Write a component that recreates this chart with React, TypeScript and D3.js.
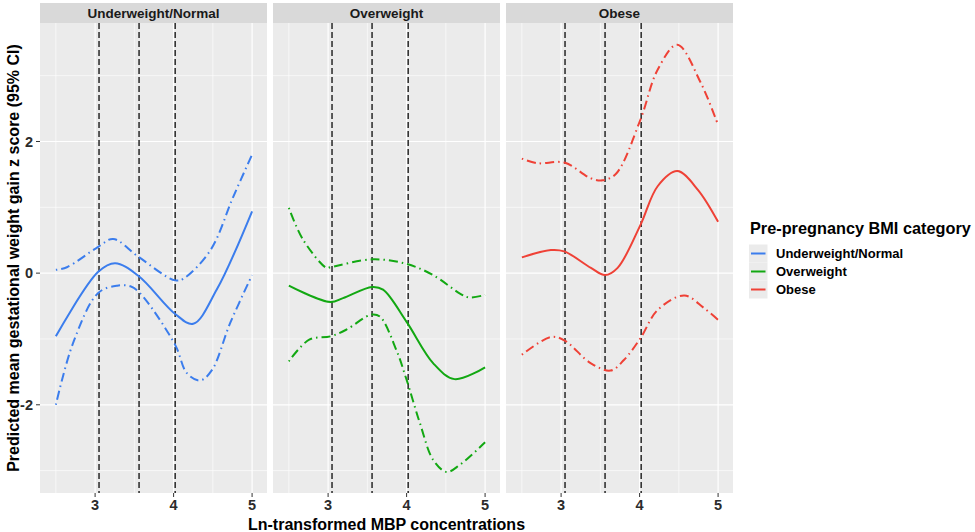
import React from "react";
import * as d3 from "d3";

// ---- Data ----
const panelNames = ["Underweight/Normal", "Overweight", "Obese"];
const seriesColors = ["#3b7ded", "#12a812", "#ef4136"];
const cutoffs = [3.05, 3.56, 4.02];
const xTicks = [3, 4, 5];
const xMinorTicks = [2.5, 3.5, 4.5];
const yTicks = [-2, 0, 2];
const yMinorTicks = [-3, -1, 1, 3];

// Underweight/Normal
const unFitX = [2.5, 3.04, 3.255, 3.55, 4.02, 4.25, 4.55, 5.0];
const unFitY = [-0.96, 0.02, 0.15, -0.04, -0.62, -0.77, -0.25, 0.94];
const unUpX = [2.5, 2.64, 3.04, 3.23, 3.55, 4.02, 4.13, 4.47, 4.76, 5.0];
const unUpY = [0.05, 0.09, 0.4, 0.52, 0.25, -0.11, -0.08, 0.35, 1.16, 1.8];
const unLoX = [2.5, 2.72, 3.04, 3.28, 3.45, 3.57, 4.02, 4.17, 4.34, 4.49, 4.72, 5.0];
const unLoY = [-2.0, -1.06, -0.3, -0.19, -0.2, -0.3, -1.09, -1.52, -1.63, -1.47, -0.76, -0.03];

// Overweight
const owFitX = [2.5, 3.03, 3.19, 3.56, 3.7, 4.0, 4.34, 4.61, 5.0];
const owFitY = [-0.19, -0.44, -0.38, -0.21, -0.25, -0.74, -1.37, -1.61, -1.43];
const owUpX = [2.5, 2.68, 2.98, 3.03, 3.57, 4.0, 4.34, 4.68, 4.8, 5.0];
const owUpY = [0.99, 0.51, 0.08, 0.09, 0.21, 0.14, -0.03, -0.31, -0.37, -0.33];
const owLoX = [2.5, 2.76, 3.03, 3.23, 3.55, 3.66, 3.87, 4.0, 4.17, 4.34, 4.51, 4.68, 5.0];
const owLoY = [-1.34, -1.01, -0.96, -0.86, -0.63, -0.66, -1.17, -1.62, -2.28, -2.84, -3.02, -2.91, -2.57];

// Obese
const obFitX = [2.5, 2.87, 3.04, 3.38, 3.56, 3.72, 4.01, 4.23, 4.48, 4.74, 5.0];
const obFitY = [0.24, 0.35, 0.33, 0.08, -0.03, 0.08, 0.73, 1.32, 1.55, 1.27, 0.78];
const obUpX = [2.5, 2.7, 3.04, 3.38, 3.53, 3.7, 4.01, 4.23, 4.48, 4.78, 5.0];
const obUpY = [1.74, 1.67, 1.68, 1.44, 1.41, 1.51, 2.33, 3.09, 3.47, 2.89, 2.25];
const obLoX = [2.5, 2.87, 3.04, 3.38, 3.63, 3.8, 4.01, 4.23, 4.57, 4.82, 5.0];
const obLoY = [-1.24, -0.97, -1.02, -1.37, -1.48, -1.32, -0.99, -0.56, -0.34, -0.53, -0.71];

const panelSeries = [
  { fit: [unFitX, unFitY], up: [unUpX, unUpY], lo: [unLoX, unLoY] },
  { fit: [owFitX, owFitY], up: [owUpX, owUpY], lo: [owLoX, owLoY] },
  { fit: [obFitX, obFitY], up: [obUpX, obUpY], lo: [obLoX, obLoY] },
];

// ---- Layout ----
const W = 975;
const H = 532;
const panelLefts = [40, 273, 506];
const panelW = 227;
const panelTop = 23;
const panelBottom = 493;
const stripTop = 3;
const font = "'Liberation Sans', Arial, Helvetica, sans-serif";

const x = d3.scaleLinear().domain([2.298, 5.19]).range([0, panelW]);
const y = d3.scaleLinear().domain([-3.34, 3.8]).range([panelBottom - panelTop, 0]);

const line = d3
  .line<[number, number]>()
  .x((d) => x(d[0]))
  .y((d) => y(d[1]))
  .curve(d3.curveCatmullRom.alpha(0.5));

function toPts(xs: number[], ys: number[]): [number, number][] {
  return xs.map((v, i) => [v, ys[i]] as [number, number]);
}

const dotdash = "1.5,4,9,4";

export default function App() {
  const ph = panelBottom - panelTop;
  return (
    <svg
      width={W}
      height={H}
      style={{ position: "absolute", left: 0, top: 0, display: "block", background: "#fff" }}
      fontFamily={font}
    >
      {panelNames.map((name, pi) => {
        const s = panelSeries[pi];
        const col = seriesColors[pi];
        return (
          <g key={name} transform={`translate(${panelLefts[pi]},0)`}>
            {/* strip */}
            <rect x={0} y={stripTop} width={panelW} height={panelTop - stripTop} fill="#d9d9d9" />
            <text
              x={panelW / 2}
              y={(stripTop + panelTop) / 2}
              dy="0.35em"
              textAnchor="middle"
              fontSize={13.5}
              fontWeight="bold"
              fill="#1a1a1a"
            >
              {name}
            </text>
            <g transform={`translate(0,${panelTop})`}>
              <rect x={0} y={0} width={panelW} height={ph} fill="#ebebeb" />
              {xMinorTicks.map((t) => (
                <line key={"xm" + t} x1={x(t)} x2={x(t)} y1={0} y2={ph} stroke="#fff" strokeWidth={0.6} />
              ))}
              {yMinorTicks.map((t) => (
                <line key={"ym" + t} x1={0} x2={panelW} y1={y(t)} y2={y(t)} stroke="#fff" strokeWidth={0.6} />
              ))}
              {xTicks.map((t) => (
                <line key={"xM" + t} x1={x(t)} x2={x(t)} y1={0} y2={ph} stroke="#fff" strokeWidth={1.2} />
              ))}
              {yTicks.map((t) => (
                <line key={"yM" + t} x1={0} x2={panelW} y1={y(t)} y2={y(t)} stroke="#fff" strokeWidth={1.2} />
              ))}
              {cutoffs.map((c) => (
                <line
                  key={"c" + c}
                  x1={x(c)}
                  x2={x(c)}
                  y1={0}
                  y2={ph}
                  stroke="#1a1a1a"
                  strokeWidth={1.4}
                  strokeDasharray="6,3"
                />
              ))}
              <path d={line(toPts(s.up[0], s.up[1])) || ""} fill="none" stroke={col} strokeWidth={2} strokeDasharray={dotdash} />
              <path d={line(toPts(s.lo[0], s.lo[1])) || ""} fill="none" stroke={col} strokeWidth={2} strokeDasharray={dotdash} />
              <path d={line(toPts(s.fit[0], s.fit[1])) || ""} fill="none" stroke={col} strokeWidth={2} />
            </g>
            {/* x axis ticks */}
            {xTicks.map((t) => (
              <g key={"xt" + t}>
                <line x1={x(t)} x2={x(t)} y1={panelBottom} y2={panelBottom + 4} stroke="#333" strokeWidth={1} />
                <text x={x(t)} y={panelBottom + 11.5} dy="0.35em" textAnchor="middle" fontSize={14.5} fontWeight="bold" fill="#2b2b2b">
                  {t}
                </text>
              </g>
            ))}
          </g>
        );
      })}
      {/* y axis */}
      {yTicks.map((t) => (
        <g key={"yt" + t}>
          <line x1={36} x2={40} y1={panelTop + y(t)} y2={panelTop + y(t)} stroke="#333" strokeWidth={1} />
          <text x={33} y={panelTop + y(t)} dy="0.35em" textAnchor="end" fontSize={14.5} fontWeight="bold" fill="#2b2b2b">
            {t}
          </text>
        </g>
      ))}
      <text
        transform={`translate(13,${(panelTop + panelBottom) / 2}) rotate(-90)`}
        textAnchor="middle"
        dy="0.35em"
        fontSize={16}
        fontWeight="bold"
        fill="#000"
      >
        Predicted mean gestational weight gain z score (95% CI)
      </text>
      <text
        x={(panelLefts[0] + panelLefts[2] + panelW) / 2}
        y={524}
        dy="0.35em"
        textAnchor="middle"
        fontSize={16}
        fontWeight="bold"
        fill="#000"
      >
        Ln-transformed MBP concentrations
      </text>
      {/* legend */}
      <text x={750} y={234} fontSize={16.3} fontWeight="bold" fill="#000">
        Pre-pregnancy BMI category
      </text>
      {panelNames.map((name, i) => {
        const cy = 253.5 + i * 18;
        return (
          <g key={"lg" + name}>
            <rect x={749} y={cy - 9} width={18.5} height={18} fill="#ebebeb" />
            <line x1={751} x2={765.5} y1={cy} y2={cy} stroke={seriesColors[i]} strokeWidth={2} />
            <text x={776} y={cy} dy="0.35em" fontSize={13} fontWeight="bold" fill="#000">
              {name}
            </text>
          </g>
        );
      })}
    </svg>
  );
}
